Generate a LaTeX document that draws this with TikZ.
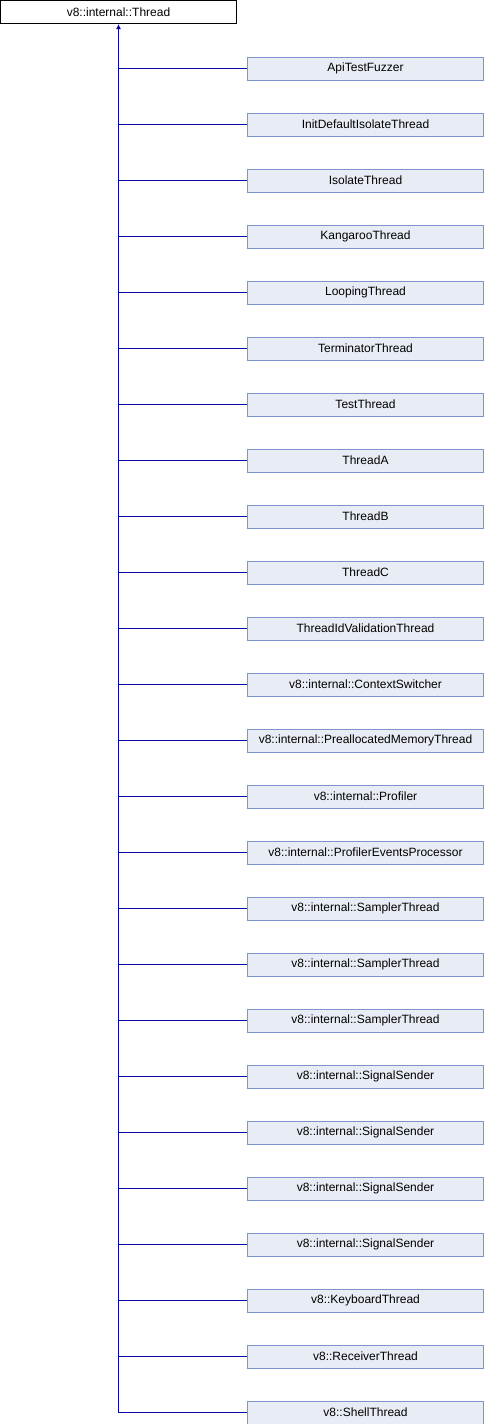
\documentclass[tikz,border=0pt]{standalone}
\usepackage{fontspec}
\setmainfont{Liberation Sans}
\usetikzlibrary{arrows.meta}
\definecolor{edgeblue}{RGB}{8,8,160}
\definecolor{boxfill}{RGB}{232,236,245}
\definecolor{boxline}{RGB}{126,149,204}
\begin{document}
\begin{tikzpicture}[x=1pt,y=-1pt,
  base/.style={draw=black,fill=white,line width=1pt,minimum width=236pt,minimum height=23pt,inner sep=0pt,font=\fontsize{12}{14}\selectfont},
  derived/.style={draw=boxline,fill=boxfill,line width=1pt,minimum width=236pt,minimum height=23pt,inner sep=0pt,font=\fontsize{12}{14}\selectfont},
  link/.style={draw=edgeblue,line width=1.1pt}]
\useasboundingbox (0,0) rectangle (484,1424);
\node[base] (top) at (118.5,12) {v8::internal::Thread};
\foreach \name [count=\i from 0] in {ApiTestFuzzer,InitDefaultIsolateThread,IsolateThread,KangarooThread,LoopingThread,TerminatorThread,TestThread,ThreadA,ThreadB,ThreadC,ThreadIdValidationThread,v8::internal::ContextSwitcher,v8::internal::PreallocatedMemoryThread,v8::internal::Profiler,v8::internal::ProfilerEventsProcessor,v8::internal::SamplerThread,v8::internal::SamplerThread,v8::internal::SamplerThread,v8::internal::SignalSender,v8::internal::SignalSender,v8::internal::SignalSender,v8::internal::SignalSender,v8::KeyboardThread,v8::ReceiverThread,v8::ShellThread}{
  \node[derived] (c\i) at (365.5,{68.5+56*\i}) {\name};
  \coordinate (j\i) at (c\i.west -| top.south);
  \draw[link] (c\i.west) -- (j\i);
}
\draw[link,-{Latex[length=5pt,width=5pt]}] (j24) -- (top.south);
\end{tikzpicture}
\end{document}
